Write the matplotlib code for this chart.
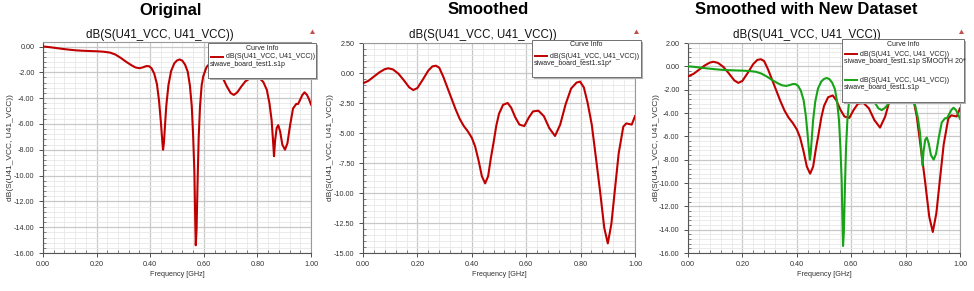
import matplotlib
matplotlib.use('Agg')
import matplotlib.pyplot as plt
from matplotlib.patches import Rectangle, Polygon
from matplotlib.lines import Line2D
from matplotlib.ticker import MultipleLocator, FormatStrFormatter

plt.rcParams['font.family'] = ['Liberation Sans', 'DejaVu Sans']
plt.rcParams['axes.unicode_minus'] = False

W, H = 974, 291

# raw sweep: siwave_board_test1.s1p
freq_orig = [0.000, 0.025, 0.050, 0.075, 0.100, 0.125, 0.150, 0.175, 0.200, 0.225,
             0.250, 0.270, 0.290, 0.310, 0.330, 0.345, 0.360, 0.372, 0.385, 0.395,
             0.405, 0.415, 0.425, 0.433, 0.440, 0.445, 0.448, 0.451, 0.455, 0.460,
             0.468, 0.478, 0.490, 0.500, 0.510, 0.520, 0.530, 0.540, 0.548, 0.555,
             0.560, 0.565, 0.568, 0.570, 0.573, 0.577, 0.581, 0.586, 0.592, 0.598,
             0.610, 0.625, 0.640, 0.655, 0.670, 0.685, 0.700, 0.712, 0.725, 0.740,
             0.755, 0.770, 0.790, 0.810, 0.822, 0.835, 0.845, 0.853, 0.858, 0.862,
             0.866, 0.872, 0.878, 0.885, 0.893, 0.903, 0.912, 0.922, 0.933, 0.945,
             0.952, 0.960, 0.968, 0.976, 0.985, 0.993, 1.000]
db_orig = [0.00, -0.05, -0.12, -0.19, -0.25, -0.30, -0.33, -0.35, -0.37, -0.40,
           -0.47, -0.62, -0.88, -1.18, -1.45, -1.62, -1.68, -1.62, -1.52, -1.52,
           -1.68, -2.10, -2.90, -4.20, -5.90, -7.30, -8.00, -7.50, -6.20, -4.60,
           -3.00, -1.90, -1.30, -1.08, -1.00, -1.10, -1.40, -1.95, -3.00, -4.60,
           -6.80, -9.80, -13.50, -15.40, -14.20, -10.30, -7.00, -4.60, -3.00, -2.30,
           -1.60, -1.25, -1.35, -1.85, -2.40, -3.05, -3.60, -3.75, -3.55, -3.10,
           -2.70, -2.50, -2.45, -2.50, -2.75, -3.35, -4.40, -5.70, -7.20, -8.50,
           -7.30, -6.30, -6.10, -6.60, -7.60, -8.00, -7.50, -6.10, -4.80, -4.45,
           -4.45, -4.10, -3.75, -3.55, -3.75, -4.10, -4.50]

# smoothed trace: SMOOTH 20
freq_smooth = [0.000, 0.020, 0.040, 0.060, 0.080, 0.093, 0.110, 0.130, 0.150, 0.170,
               0.185, 0.200, 0.220, 0.240, 0.255, 0.268, 0.280, 0.295, 0.310, 0.325,
               0.340, 0.355, 0.370, 0.385, 0.400, 0.412, 0.425, 0.437, 0.449, 0.460,
               0.470, 0.480, 0.490, 0.500, 0.515, 0.532, 0.545, 0.560, 0.575, 0.593,
               0.610, 0.625, 0.645, 0.665, 0.685, 0.706, 0.725, 0.745, 0.765, 0.785,
               0.798, 0.812, 0.826, 0.841, 0.856, 0.871, 0.887, 0.900, 0.913, 0.926,
               0.940, 0.957, 0.968, 0.978, 0.988, 1.000]
db_smooth = [-0.86, -0.65, -0.30, 0.05, 0.32, 0.39, 0.30, -0.05, -0.60, -1.20,
             -1.42, -1.25, -0.55, 0.20, 0.55, 0.61, 0.45, -0.30, -1.20, -2.10,
             -3.00, -3.80, -4.40, -4.85, -5.40, -6.10, -7.30, -8.60, -9.20, -8.60,
             -7.10, -5.80, -4.40, -3.40, -2.65, -2.50, -2.90, -3.70, -4.30, -4.42,
             -3.70, -3.20, -3.14, -3.60, -4.60, -5.25, -4.30, -2.60, -1.30, -0.80,
             -0.72, -1.20, -2.50, -4.30, -7.00, -9.75, -12.90, -14.20, -12.60, -9.75,
             -6.70, -4.47, -4.20, -4.25, -4.30, -3.60]

panel_titles = ['Original', 'Smoothed', 'Smoothed with New Dataset']
trace_name = 'dB(S(U41_VCC, U41_VCC))'
file_name = 'siwave_board_test1.s1p'
x_label = 'Frequency [GHz]'
x_ticks = [0.0, 0.2, 0.4, 0.6, 0.8, 1.0]
y_ticks = [
    [0, -2, -4, -6, -8, -10, -12, -14, -16],
    [2.5, 0, -2.5, -5, -7.5, -10, -12.5, -15],
    [2, 0, -2, -4, -6, -8, -10, -12, -14, -16],
]

RED = '#c00000'
GREEN = '#17a317'

# panel boxes in pixels: left, top, right, bottom
boxes = [(43, 42, 311, 253), (363, 43, 635, 253), (688, 43, 960, 253)]
ylims = [(-16, 0.35), (-15, 2.5), (-16, 2.0)]
y_minor = [0.4, 0.5, 0.4]
title_cx = [171, 488, 806]
sub_cx = [160, 483, 807]


def fx(x):
    return x / W


def fy(y):
    return 1 - y / H


def curve_info(fig, box, entries):
    x0, y0, x1, y1 = box
    # shadow
    fig.add_artist(Rectangle((fx(x0 + 2), fy(y1 + 2)), (x1 - x0) / W, (y1 - y0) / H,
                             transform=fig.transFigure, facecolor='#b0b0b0',
                             edgecolor='none', zorder=9))
    fig.add_artist(Rectangle((fx(x0), fy(y1)), (x1 - x0) / W, (y1 - y0) / H,
                             transform=fig.transFigure, facecolor='white',
                             edgecolor='#707070', linewidth=0.7, zorder=10))
    fig.text(fx((x0 + x1) / 2), fy(y0 + 5), 'Curve Info', fontsize=5, ha='center',
             va='center', color='#222222', zorder=11)
    for color, line1, line2, ty in entries:
        fig.add_artist(Line2D([fx(x0 + 3), fx(x0 + 15)], [fy(ty), fy(ty)],
                              transform=fig.transFigure, color=color, linewidth=1.4,
                              zorder=11))
        fig.text(fx(x0 + 18), fy(ty), line1, fontsize=5, ha='left', va='center',
                 color='#222222', zorder=11)
        fig.text(fx(x0 + 1.5), fy(ty + 7.5), line2, fontsize=5, ha='left', va='center',
                 color='#222222', zorder=11)


fig = plt.figure(figsize=(W / 100, H / 100), dpi=100)
fig.patch.set_facecolor('white')

series = [
    [(freq_orig, db_orig, RED)],
    [(freq_smooth, db_smooth, RED)],
    [(freq_smooth, db_smooth, RED), (freq_orig, db_orig, GREEN)],
]

for i, (l, t, r, b) in enumerate(boxes):
    ax = fig.add_axes([fx(l), fy(b), (r - l) / W, (b - t) / H])
    for xs, ys, c in series[i]:
        ax.plot(xs, ys, color=c, linewidth=1.5, zorder=3)
    ax.set_xlim(0, 1)
    ax.set_ylim(*ylims[i])
    ax.set_xticks(x_ticks)
    ax.set_yticks(y_ticks[i])
    ax.xaxis.set_minor_locator(MultipleLocator(0.04))
    ax.yaxis.set_minor_locator(MultipleLocator(y_minor[i]))
    ax.xaxis.set_major_formatter(FormatStrFormatter('%.2f'))
    ax.yaxis.set_major_formatter(FormatStrFormatter('%.2f'))
    ax.grid(True, which='major', color='#c8c8c8', linewidth=0.9, zorder=0)
    ax.grid(True, which='minor', color='#e8e8e8', linewidth=0.6, zorder=0)
    ax.set_axisbelow(True)
    ax.tick_params(which='major', direction='out', length=3, width=0.6,
                   labelsize=5.2, colors='#333333', pad=3)
    ax.tick_params(which='minor', direction='in', length=2, width=0.5,
                   colors='#555555')
    for side in ['left', 'bottom']:
        ax.spines[side].set_color('#555555')
        ax.spines[side].set_linewidth(0.8)
    for side in ['top', 'right']:
        ax.spines[side].set_color('#9a9a9a')
        ax.spines[side].set_linewidth(0.8)
    ax.set_xlabel(x_label, fontsize=5.2, color='#333333', labelpad=2)

    # panel headings and plot title
    fig.text(fx(title_cx[i]), fy(10), panel_titles[i], fontsize=12, fontweight='bold',
             ha='center', va='center', color='black')
    fig.text(fx(sub_cx[i]), fy(35), trace_name, fontsize=8.3, ha='center',
             va='center', color='#111111')
    fig.text(fx(l - 32), fy(148), trace_name, fontsize=6, rotation=90, ha='center',
             va='center', color='#333333')
    # small marker triangle at top right
    tx, ty = r + 1.5, 32
    fig.add_artist(Polygon([(fx(tx - 2.5), fy(ty + 2)), (fx(tx + 2.5), fy(ty + 2)),
                            (fx(tx), fy(ty - 2.5))], closed=True,
                           transform=fig.transFigure, facecolor='#c0504d',
                           edgecolor='none'))

curve_info(fig, (208, 43, 316, 78), [(RED, trace_name, file_name, 57)])
curve_info(fig, (532, 40, 641, 77), [(RED, trace_name, file_name + '*', 56)])
curve_info(fig, (842, 39, 964, 102),
           [(RED, trace_name, file_name + ' SMOOTH 20*', 54),
            (GREEN, trace_name, file_name, 80)])

fig.savefig('out.png', dpi=100, facecolor='white')
